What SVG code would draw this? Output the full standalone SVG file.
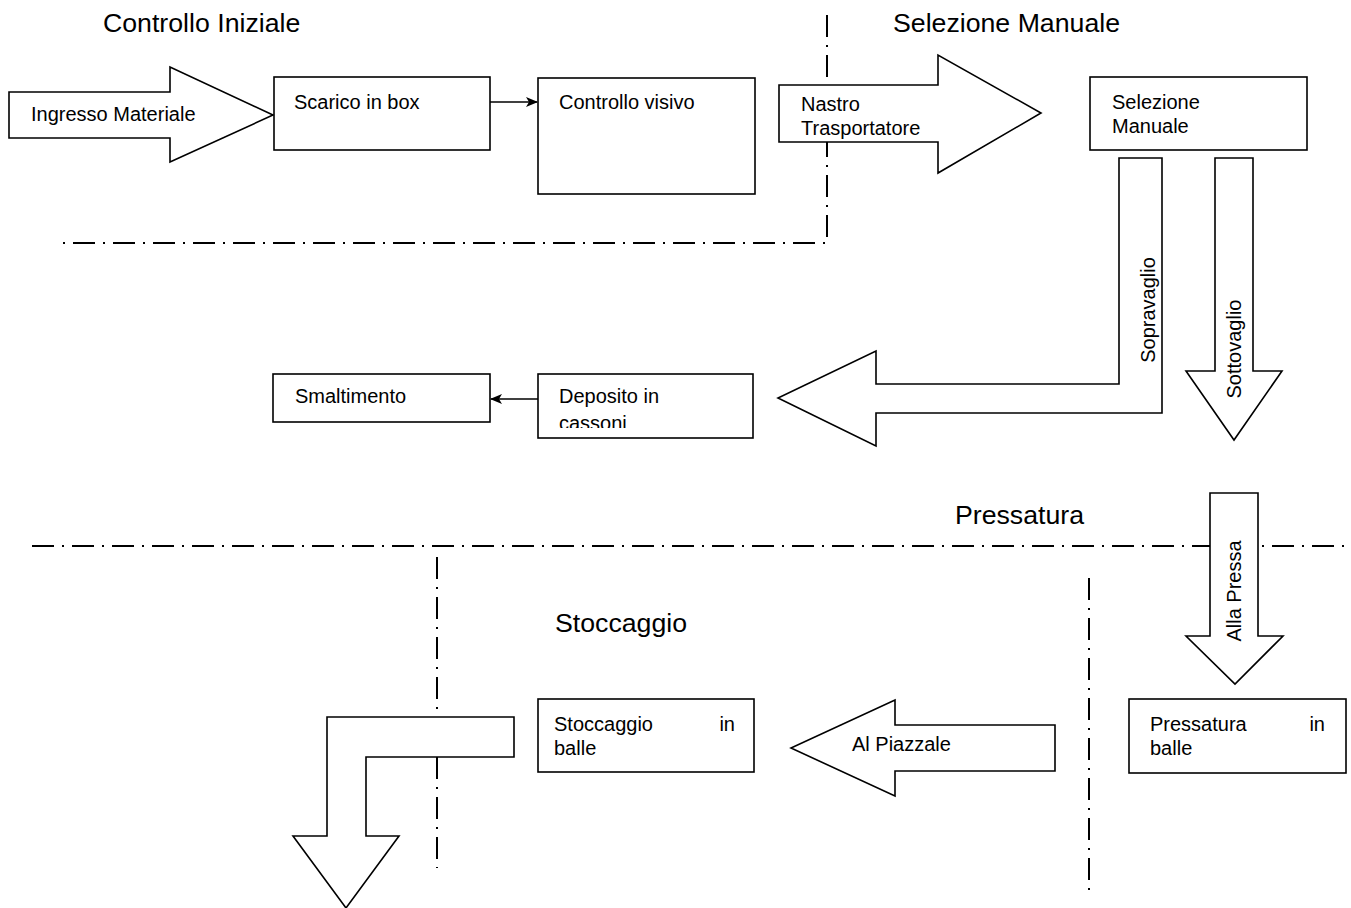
<svg xmlns="http://www.w3.org/2000/svg" width="1351" height="908" viewBox="0 0 1351 908">
  <defs>
    <style>
      text { font-family: "Liberation Sans", Arial, sans-serif; fill: #000; }
      .title { font-size: 26.7px; }
      .lbl { font-size: 20px; }
      .box, .blk { fill: #fff; stroke: #000; stroke-width: 1.6; }
      .zone { fill: none; stroke: #000; stroke-width: 2; stroke-dasharray: 22 8 2 8; }
      .link { fill: none; stroke: #000; stroke-width: 1.4; marker-end: url(#tip); }
    </style>
    <marker id="tip" viewBox="0 0 12 10" refX="11" refY="5" markerWidth="12" markerHeight="10" markerUnits="userSpaceOnUse" orient="auto">
      <path d="M0,0 L12,5 L0,10 L3,5 z" fill="#000"/>
    </marker>
    <clipPath id="clip-deposito">
      <rect x="538" y="374" width="215" height="54"/>
    </clipPath>
  </defs>

  <!-- zone boundaries -->
  <g id="zones">
    <path class="zone" d="M827,15 V243 H60"/>
    <path class="zone" d="M32,546 H1351"/>
    <path class="zone" d="M437,557 V868"/>
    <path class="zone" d="M1089,578 V890"/>
  </g>

  <!-- zone titles -->
  <g id="titles">
    <text class="title" x="103" y="32">Controllo Iniziale</text>
    <text class="title" x="893" y="32">Selezione Manuale</text>
    <text class="title" x="955" y="524">Pressatura</text>
    <text class="title" x="555" y="632">Stoccaggio</text>
  </g>

  <!-- block arrows -->
  <g id="arrow-ingresso">
    <polygon class="blk" points="9,92 170,92 170,67 273,115 170,162 170,138 9,138"/>
    <text class="lbl" x="31" y="121">Ingresso Materiale</text>
  </g>
  <g id="arrow-nastro">
    <polygon class="blk" points="779,85 938,85 938,55 1041,113 938,173 938,142 779,142"/>
    <text class="lbl" x="801" y="111">Nastro</text>
    <text class="lbl" x="801" y="135">Trasportatore</text>
  </g>
  <g id="arrow-sopravaglio">
    <polygon class="blk" points="1119,158 1162,158 1162,413 876,413 876,446 778,398 876,351 876,384 1119,384"/>
    <text class="lbl" transform="translate(1155,310) rotate(-90)" text-anchor="middle">Sopravaglio</text>
  </g>
  <g id="arrow-sottovaglio">
    <polygon class="blk" points="1215,158 1253,158 1253,371 1282,371 1234,440 1186,371 1215,371"/>
    <text class="lbl" transform="translate(1241,349) rotate(-90)" text-anchor="middle">Sottovaglio</text>
  </g>
  <g id="arrow-pressa">
    <polygon class="blk" points="1210,493 1258,493 1258,636 1283,636 1235,684 1186,636 1210,636"/>
    <text class="lbl" transform="translate(1241,591) rotate(-90)" text-anchor="middle">Alla Pressa</text>
  </g>
  <g id="arrow-piazzale">
    <polygon class="blk" points="1055,725 1055,771 895,771 895,796 791,748 895,700 895,725"/>
    <text class="lbl" x="852" y="751">Al Piazzale</text>
  </g>
  <g id="arrow-uscita">
    <polygon class="blk" points="514,717 514,757 366,757 366,836 399,836 346,908 293,836 327,836 327,717"/>
  </g>

  <!-- process boxes -->
  <g id="scarico">
    <rect class="box" x="274" y="77" width="216" height="73"/>
    <text class="lbl" x="294" y="109">Scarico in box</text>
  </g>
  <g id="controllo">
    <rect class="box" x="538" y="78" width="217" height="116"/>
    <text class="lbl" x="559" y="109">Controllo visivo</text>
  </g>
  <g id="selezione">
    <rect class="box" x="1090" y="77" width="217" height="73"/>
    <text class="lbl" x="1112" y="109">Selezione</text>
    <text class="lbl" x="1112" y="133">Manuale</text>
  </g>
  <g id="smaltimento">
    <rect class="box" x="273" y="374" width="217" height="48"/>
    <text class="lbl" x="295" y="403">Smaltimento</text>
  </g>
  <g id="deposito">
    <rect class="box" x="538" y="374" width="215" height="64"/>
    <text class="lbl" x="559" y="403">Deposito in</text>
    <text class="lbl" x="559" y="430" clip-path="url(#clip-deposito)">cassoni</text>
  </g>
  <g id="pressatura">
    <rect class="box" x="1129" y="699" width="217" height="74"/>
    <text class="lbl" x="1150" y="731">Pressatura</text>
    <text class="lbl" x="1325" y="731" text-anchor="end">in</text>
    <text class="lbl" x="1150" y="755">balle</text>
  </g>
  <g id="stoccaggio">
    <rect class="box" x="538" y="699" width="216" height="73"/>
    <text class="lbl" x="554" y="731">Stoccaggio</text>
    <text class="lbl" x="735" y="731" text-anchor="end">in</text>
    <text class="lbl" x="554" y="755">balle</text>
  </g>

  <!-- connectors -->
  <g id="connectors">
    <path class="link" d="M490,102 H537"/>
    <path class="link" d="M538,399 H491"/>
  </g>
</svg>
